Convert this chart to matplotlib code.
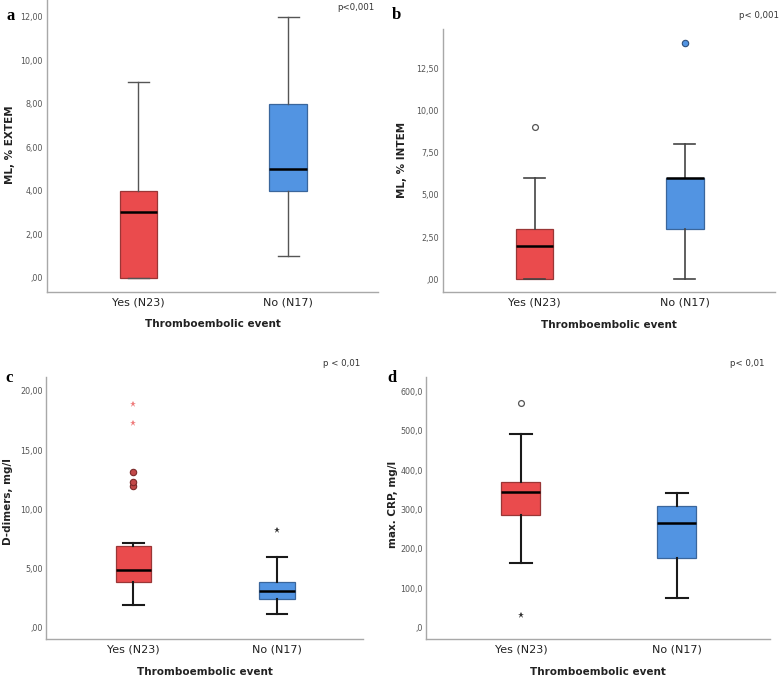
import matplotlib
matplotlib.use("Agg")
import matplotlib.pyplot as plt

# ---------------- data ----------------
groups = ["Yes (N23)", "No (N17)"]
xtitle = "Thromboembolic event"

# box stats: [whisker low, Q1, median, Q3, whisker high]
a_yes = [0, 0, 3, 4, 9]
a_no = [1, 4, 5, 8, 12]

b_yes = [0, 0, 2, 3, 6]
b_no = [0, 3, 6, 6, 8]
b_yes_open = [9]
b_no_filled = [14]

c_yes = [1.9, 3.85, 4.9, 6.95, 7.2]
c_no = [1.2, 2.45, 3.1, 3.85, 5.95]
c_yes_circles = [12.0, 12.3, 13.2]
c_yes_stars = [17.3, 18.9]
c_no_stars = [8.3]

d_yes = [165, 287, 345, 371, 492]
d_no = [76, 178, 265, 310, 342]
d_yes_open = [570]
d_yes_stars = [32]

a_ticks = [0, 2, 4, 6, 8, 10, 12]
a_ticklabels = [",00", "2,00", "4,00", "6,00", "8,00", "10,00", "12,00"]
b_ticks = [0, 2.5, 5, 7.5, 10, 12.5]
b_ticklabels = [",00", "2,50", "5,00", "7,50", "10,00", "12,50"]
c_ticks = [0, 5, 10, 15, 20]
c_ticklabels = [",00", "5,00", "10,00", "15,00", "20,00"]
d_ticks = [0, 100, 200, 300, 400, 500, 600]
d_ticklabels = [",0", "100,0", "200,0", "300,0", "400,0", "500,0", "600,0"]

ylabels = ["ML, % EXTEM", "ML, % INTEM", "D-dimers, mg/l", "max. CRP, mg/l"]
pvals = ["p<0,001", "p< 0,001", "p < 0,01", "p< 0,01"]
letters = ["a", "b", "c", "d"]

# ---------------- style ----------------
RED = "#EA4B4D"
RED_EDGE = "#9A3636"
BLUE = "#5294E2"
BLUE_EDGE = "#3A669C"
W, H = 784, 678

fig = plt.figure(figsize=(W / 100, H / 100), dpi=100)
plt.rcParams["font.family"] = ["DejaVu Sans"]


def fx(x):
    return x / W


def fy(y):
    return 1 - y / H


def make_ax(l, t, r, b):
    return fig.add_axes([fx(l), fy(b), (r - l) / W, (b - t) / H])


def draw_box(ax, yes, no, ylim, ticks, ticklabels, lw, wcol, pad_px):
    stats = []
    for g, v in zip(groups, [yes, no]):
        stats.append(dict(label=g, whislo=v[0], q1=v[1], med=v[2],
                          q3=v[3], whishi=v[4], fliers=[]))
    bp = ax.bxp(stats, positions=[1, 2], widths=0.25, capwidths=0.14,
                patch_artist=True, showfliers=False,
                whiskerprops=dict(color=wcol, lw=lw),
                capprops=dict(color=wcol, lw=lw),
                medianprops=dict(color="black", lw=1.8),
                boxprops=dict(lw=0.9))
    for patch, fc, ec in zip(bp["boxes"], [RED, BLUE], [RED_EDGE, BLUE_EDGE]):
        patch.set_facecolor(fc)
        patch.set_edgecolor(ec)
    ax.set_xlim(0.39, 2.6)
    ax.set_ylim(*ylim)
    ax.set_yticks(ticks)
    ax.set_yticklabels(ticklabels)
    ax.tick_params(axis="y", length=0, labelsize=5.8, labelcolor="#555555",
                   pad=pad_px * 0.72)
    ax.tick_params(axis="x", length=0, labelsize=8, labelcolor="#222222", pad=4)
    for s in ["top", "right"]:
        ax.spines[s].set_visible(False)
    for s in ["left", "bottom"]:
        ax.spines[s].set_color("#A8A8A8")
        ax.spines[s].set_linewidth(1.0)
    ax.set_facecolor("white")


# panel a
ax_a = make_ax(47, 0, 378, 291.7)
draw_box(ax_a, a_yes, a_no, (-0.644, 12.77), a_ticks, a_ticklabels, 1.0, "#555555", 4)

# panel b
ax_b = make_ax(443, 29.3, 775, 292)
draw_box(ax_b, b_yes, b_no, (-0.75, 14.81), b_ticks, b_ticklabels, 1.2, "#444444", 4)
ax_b.plot([1] * len(b_yes_open), b_yes_open, "o", ms=4.2, mfc="white", mec="#555555", mew=0.9)
ax_b.plot([2] * len(b_no_filled), b_no_filled, "o", ms=4.6, mfc=BLUE, mec="#2F4F7A", mew=0.8)

# panel c
ax_c = make_ax(46, 377, 363, 639)
draw_box(ax_c, c_yes, c_no, (-0.93, 21.18), c_ticks, c_ticklabels, 1.5, "#1a1a1a", 3)
ax_c.plot([1] * len(c_yes_circles), c_yes_circles, "o", ms=4.6, mfc="#C24848", mec="#7A2A2A", mew=0.8)
ax_c.plot([1] * len(c_yes_stars), c_yes_stars, "*", ms=5, color="#EF7B7B", mew=0)
ax_c.plot([2] * len(c_no_stars), c_no_stars, "*", ms=5, color="#333333", mew=0)

# panel d
ax_d = make_ax(426, 377, 770, 639)
draw_box(ax_d, d_yes, d_no, (-28.7, 637), d_ticks, d_ticklabels, 1.5, "#1a1a1a", 3)
ax_d.plot([1] * len(d_yes_open), d_yes_open, "o", ms=4.2, mfc="white", mec="#555555", mew=0.9)
ax_d.plot([1] * len(d_yes_stars), d_yes_stars, "*", ms=5, color="#333333", mew=0)

# texts
ylab_pos = [(10, 145), (402, 160), (8, 502), (393, 504)]
xt_pos = [(212.5, 324), (609, 325), (205, 672), (598, 672)]
p_pos = [(375, 7), (779, 16), (360, 364), (765, 364)]
let_pos = [(11, 20), (396, 19), (9, 382), (392, 382)]

for (x, y), t in zip(ylab_pos, ylabels):
    fig.text(fx(x), fy(y), t, rotation=90, ha="center", va="center",
             fontsize=7.5, fontweight="bold", color="#222222")
for (x, y) in xt_pos:
    fig.text(fx(x), fy(y), xtitle, ha="center", va="center",
             fontsize=7.5, fontweight="bold", color="#222222")
for (x, y), t in zip(p_pos, pvals):
    fig.text(fx(x), fy(y), t, ha="right", va="center", fontsize=6.2, color="#333333")
for (x, y), t in zip(let_pos, letters):
    fig.text(fx(x), fy(y), t, ha="center", va="baseline", fontsize=12,
             fontweight="bold", family="Liberation Serif", color="black")

fig.savefig("out.png", dpi=100, facecolor="white")
